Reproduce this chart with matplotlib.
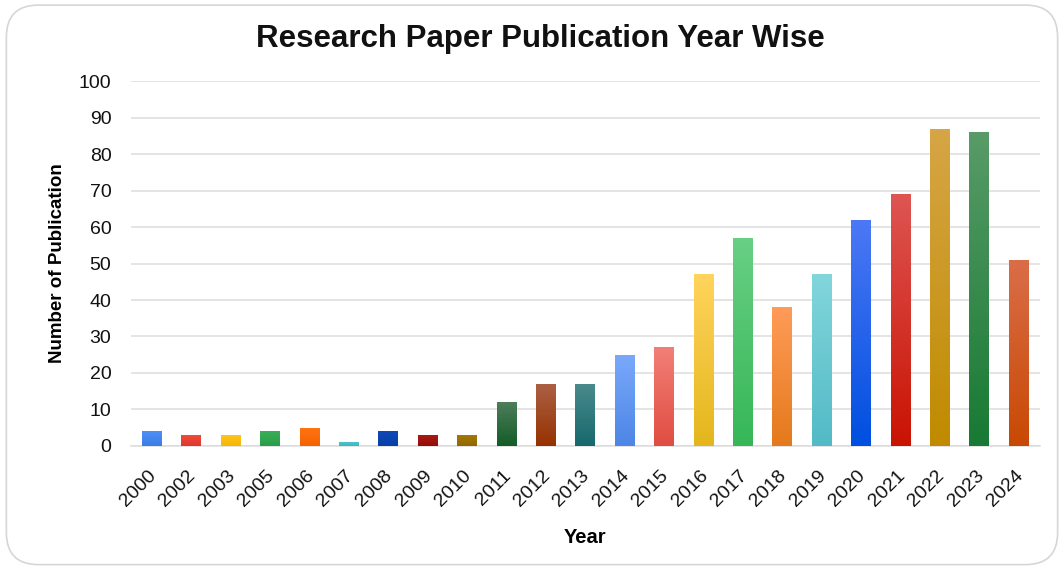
import numpy as np
import matplotlib.pyplot as plt
import matplotlib.transforms as mtransforms
from matplotlib.colors import LinearSegmentedColormap
from matplotlib.patches import FancyBboxPatch

plt.rcParams["font.family"] = ["Liberation Sans", "DejaVu Sans"]

# data
years = ["2000", "2002", "2003", "2005", "2006", "2007", "2008", "2009", "2010", "2011", "2012", "2013",
         "2014", "2015", "2016", "2017", "2018", "2019", "2020", "2021", "2022", "2023", "2024"]
counts = [4, 3, 3, 4, 5, 1, 4, 3, 3, 12, 17, 17, 25, 27, 47, 57, 38, 47, 62, 69, 87, 86, 51]

# (top colour, bottom colour) for each bar's gradient
top_colors = ["#4f8ff5", "#ef4a3c", "#fdc521", "#3aae5a", "#ff7414", "#4cc3cc", "#1048b5", "#a81a12", "#a27808",
              "#4e7d5a", "#ab6044", "#4a8a8c", "#7aa9fa", "#f27f77", "#ffd45c", "#68cf84", "#ff9b58", "#82d6db",
              "#4c78f5", "#de5552", "#d6a646", "#589b68", "#da6d48"]
bottom_colors = ["#3a7ce6", "#e0372b", "#f6b700", "#2a9d48", "#f56200", "#3fb6c0", "#0840a8", "#950d08", "#936600",
                 "#135c27", "#963200", "#17686d", "#4d86e6", "#e04d42", "#e4b61c", "#36b757", "#e47a1c", "#52bac6",
                 "#004fe0", "#c91303", "#c08b00", "#187a33", "#c84903"]

fig = plt.figure(figsize=(10.64, 5.68), dpi=100)
fig.patch.set_facecolor("white")

# rounded frame around the whole chart
frame = FancyBboxPatch((0.006, 0.006), 0.988, 0.985, boxstyle="round,pad=0,rounding_size=0.03",
                       transform=fig.transFigure, facecolor="none", edgecolor="#d6d6d6", linewidth=1.2,
                       mutation_aspect=1064 / 568, zorder=-1)
fig.patches.append(frame)

ax = fig.add_axes([0.123, 0.215, 0.854, 0.642])
ax.set_facecolor("none")

x = np.arange(len(years))
bars = ax.bar(x, counts, width=0.5, color="none", edgecolor="none", zorder=3)

grad = np.linspace(0, 1, 100).reshape(-1, 1)
for i, b in enumerate(bars):
    cmap = LinearSegmentedColormap.from_list("g%d" % i, [bottom_colors[i], top_colors[i]])
    x0 = b.get_x()
    im = ax.imshow(grad, cmap=cmap, origin="lower", aspect="auto",
                   extent=[x0, x0 + b.get_width(), 0, b.get_height()], zorder=3)
    im.set_clip_path(b)

ax.set_xlim(-0.53, len(years) - 0.47)
ax.set_ylim(0, 100)
ax.set_yticks(range(0, 101, 10))
ax.yaxis.grid(True, color="#dcdcdc", linewidth=1.1, zorder=0)
ax.set_axisbelow(True)
for s in ["top", "right", "left"]:
    ax.spines[s].set_visible(False)
ax.spines["bottom"].set_color("#dcdcdc")
ax.spines["bottom"].set_linewidth(1.1)
ax.tick_params(axis="both", length=0, labelsize=14, colors="#111111")
ax.tick_params(axis="y", pad=14)
ax.tick_params(axis="x", pad=15)
ax.set_xticks(x)
ax.set_xticklabels(years, rotation=45, ha="right", rotation_mode="anchor")
# nudge the slanted year labels a little to the left, as in the reference
shift = mtransforms.ScaledTranslation(-3 / 72, 0, fig.dpi_scale_trans)
for lab in ax.get_xticklabels():
    lab.set_transform(lab.get_transform() + shift)

ax.set_xlabel("Year", fontsize=14.5, fontweight="bold", labelpad=13)
ax.set_ylabel("Number of Publication", fontsize=13.5, fontweight="bold", labelpad=9)
fig.text(0.508, 0.931, "Research Paper Publication Year Wise", ha="center", va="center",
         fontsize=22.5, fontweight="bold", color="#111111")

plt.savefig("out.png", dpi=100)
